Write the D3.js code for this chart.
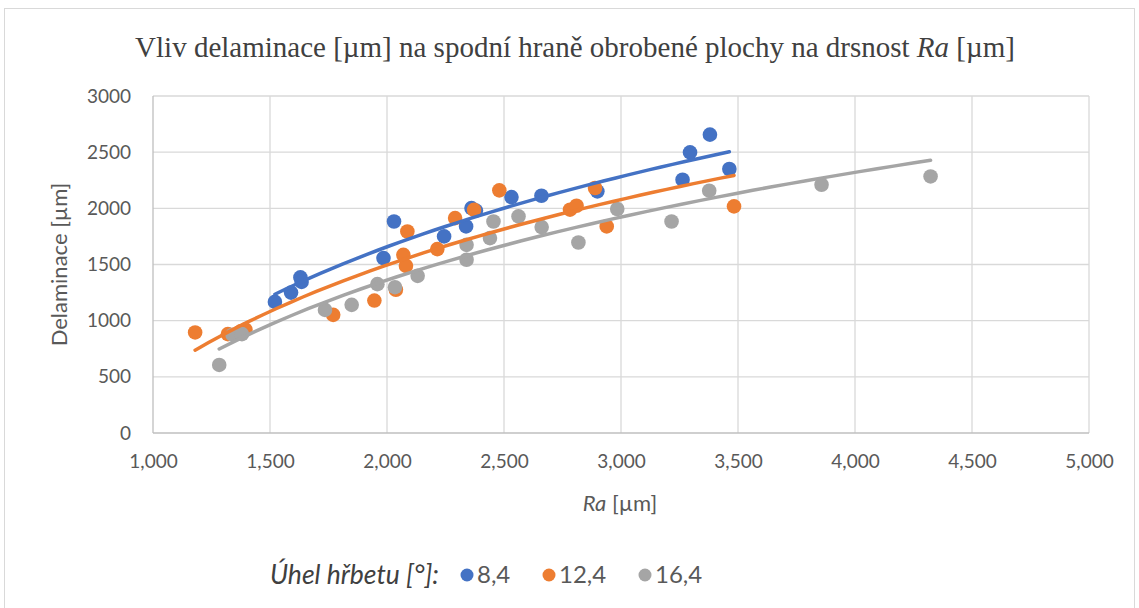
<!DOCTYPE html>
<html>
<head>
<meta charset="utf-8">
<script src="https://cdn.jsdelivr.net/npm/d3@7"></script>
<style>
  body { margin: 0; background: #fff; }
  svg text { font-family: Lato, "Open Sans", sans-serif; }
</style>
</head>
<body>
<div id="chart"></div>
<script>
// series: uhel hrbetu 8,4 / 12,4 / 16,4  (x = Ra, y = delaminace)
var seriesNames = ["8,4", "12,4", "16,4"];
var seriesColors = ["#4472C4", "#ED7D31", "#A5A5A5"];

var blueX = [1521, 1590, 1630, 1635, 1985, 2030, 2244, 2338, 2361, 2380, 2532, 2660, 2899, 3263, 3295, 3380, 3463];
var blueY = [1167, 1250, 1385, 1345, 1557, 1883, 1750, 1839, 2002, 1980, 2100, 2112, 2151, 2255, 2498, 2656, 2350];

var orangeX = [1180, 1320, 1375, 1395, 1770, 1946, 2038, 2070, 2081, 2087, 2215, 2291, 2372, 2480, 2782, 2810, 2889, 2939, 3483];
var orangeY = [895, 880, 905, 920, 1052, 1179, 1275, 1586, 1488, 1794, 1637, 1913, 1987, 2160, 1988, 2023, 2181, 1839, 2017];

var grayX = [1283, 1340, 1380, 1735, 1849, 1959, 2034, 2131, 2340, 2340, 2440, 2455, 2562, 2661, 2818, 2984, 3216, 3377, 3857, 4323];
var grayY = [606, 875, 880, 1096, 1141, 1325, 1298, 1399, 1542, 1675, 1735, 1883, 1928, 1833, 1696, 1994, 1883, 2157, 2210, 2284];

var xTicks = [1000, 1500, 2000, 2500, 3000, 3500, 4000, 4500, 5000];
var yTicks = [0, 500, 1000, 1500, 2000, 2500, 3000];

var allSeries = [
  {name: seriesNames[0], color: seriesColors[0], xs: blueX, ys: blueY},
  {name: seriesNames[1], color: seriesColors[1], xs: orangeX, ys: orangeY},
  {name: seriesNames[2], color: seriesColors[2], xs: grayX, ys: grayY}
];

var W = 1139, H = 608;
var margin = {top: 96, left: 153, right: 50, bottom: 175};
var width = W - margin.left - margin.right,
    height = H - margin.top - margin.bottom;

var svg = d3.select("#chart").append("svg")
    .attr("width", W)
    .attr("height", H);

// outer chart frame
svg.append("rect")
    .attr("x", 4.5).attr("y", 8.5)
    .attr("width", 1130).attr("height", 640)
    .attr("fill", "none")
    .attr("stroke", "#D9D9D9");

svg.append("text")
    .attr("x", 575).attr("y", 57)
    .attr("text-anchor", "middle")
    .style("font-family", "'Liberation Serif', 'Times New Roman', serif")
    .style("font-size", "29px")
    .attr("fill", "#404040")
    .html("Vliv delaminace [µm] na spodní hraně obrobené plochy na drsnost <tspan font-style='italic'>Ra</tspan> [µm]");

var g = svg.append("g")
    .attr("transform", "translate(" + margin.left + "," + margin.top + ")");

var x = d3.scaleLinear().domain([1000, 5000]).range([0, width]);
var y = d3.scaleLinear().domain([0, 3000]).range([height, 0]);

// grid
g.append("g").selectAll("line.v")
  .data(xTicks.slice(1))
  .enter().append("line")
    .attr("x1", function(d) { return x(d); })
    .attr("x2", function(d) { return x(d); })
    .attr("y1", 0).attr("y2", height)
    .attr("stroke", "#D9D9D9").attr("stroke-width", 1.3);

g.append("g").selectAll("line.h")
  .data(yTicks.slice(1))
  .enter().append("line")
    .attr("x1", 0).attr("x2", width)
    .attr("y1", function(d) { return y(d); })
    .attr("y2", function(d) { return y(d); })
    .attr("stroke", "#D9D9D9").attr("stroke-width", 1.3);

// axis lines
g.append("line").attr("x1", 0).attr("x2", width).attr("y1", height).attr("y2", height)
    .attr("stroke", "#BFBFBF").attr("stroke-width", 1.3);
g.append("line").attr("x1", 0).attr("x2", 0).attr("y1", 0).attr("y2", height)
    .attr("stroke", "#BFBFBF").attr("stroke-width", 1.3);

var xAxis = g.append("g")
    .attr("transform", "translate(0," + height + ")")
    .call(d3.axisBottom(x).tickValues(xTicks).tickFormat(d3.format(",")).tickSize(0).tickPadding(22));
xAxis.select(".domain").remove();
xAxis.selectAll("text").attr("fill", "#595959").style("font-size", "19px");

var yAxis = g.append("g")
    .call(d3.axisLeft(y).tickValues(yTicks).tickFormat(d3.format("d")).tickSize(0).tickPadding(22));
yAxis.select(".domain").remove();
yAxis.selectAll("text").attr("fill", "#595959").style("font-size", "19px");

// axis titles
svg.append("text")
    .attr("transform", "translate(67," + (margin.top + height / 2) + ") rotate(-90)")
    .attr("text-anchor", "middle")
    .attr("fill", "#595959")
    .style("font-size", "22px")
    .text("Delaminace [µm]");

svg.append("text")
    .attr("x", 620).attr("y", 511)
    .attr("text-anchor", "middle")
    .attr("fill", "#595959")
    .style("font-size", "22px")
    .html("<tspan font-style='italic'>Ra</tspan> [µm]");

// logarithmic trend line, least squares like Excel
function logFit(xs, ys) {
  var n = xs.length, sl = 0, sy = 0, sll = 0, sly = 0;
  for (var i = 0; i < n; i++) {
    var l = Math.log(xs[i]);
    sl += l; sy += ys[i]; sll += l * l; sly += l * ys[i];
  }
  var a = (n * sly - sl * sy) / (n * sll - sl * sl);
  var b = (sy - a * sl) / n;
  return function(v) { return a * Math.log(v) + b; };
}

var line = d3.line()
    .x(function(d) { return x(d[0]); })
    .y(function(d) { return y(d[1]); });

allSeries.forEach(function(s) {
  var f = logFit(s.xs, s.ys);
  var x0 = d3.min(s.xs), x1 = d3.max(s.xs);
  s.trend = d3.range(0, 41).map(function(i) {
    var v = x0 + (x1 - x0) * i / 40;
    return [v, f(v)];
  });
});

allSeries.forEach(function(s) {
  g.append("g").selectAll("circle")
    .data(d3.zip(s.xs, s.ys))
    .enter().append("circle")
      .attr("cx", function(d) { return x(d[0]); })
      .attr("cy", function(d) { return y(d[1]); })
      .attr("r", 7.3)
      .attr("fill", s.color);
});

allSeries.forEach(function(s) {
  g.append("path")
    .datum(s.trend)
    .attr("d", line)
    .attr("fill", "none")
    .attr("stroke", s.color)
    .attr("stroke-width", 3.5)
    .attr("stroke-linecap", "round");
});

// legend
var leg = svg.append("g").attr("transform", "translate(0,575)");
leg.append("text")
    .attr("x", 270).attr("y", 9)
    .attr("fill", "#404040")
    .style("font-size", "26.5px")
    .style("font-style", "italic")
    .text("Úhel hřbetu [°]:");

var legX = [467, 549, 645];
allSeries.forEach(function(s, i) {
  leg.append("circle").attr("cx", legX[i]).attr("cy", 0).attr("r", 6.5).attr("fill", s.color);
  leg.append("text")
      .attr("x", legX[i] + 10).attr("y", 8)
      .attr("fill", "#595959")
      .style("font-size", "24px")
      .text(s.name);
});
</script>
</body>
</html>
